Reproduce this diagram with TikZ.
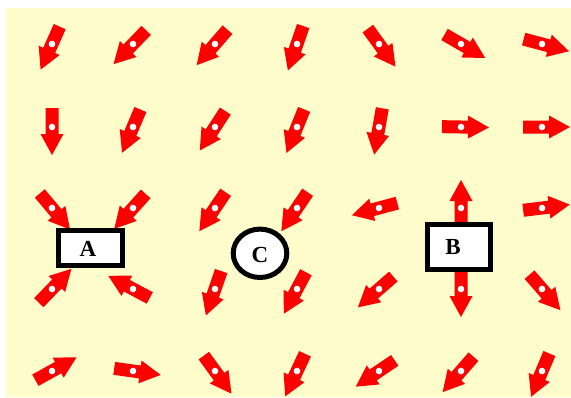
\documentclass[tikz,border=0pt]{standalone}
\usepackage{fontspec}
\setmainfont{Liberation Serif}
\usetikzlibrary{shapes.geometric}
\definecolor{bgyel}{RGB}{255,252,204}
\definecolor{arrred}{RGB}{255,0,0}
\tikzset{
  farrow/.pic={
    \fill[arrred] (-19,-6.5) -- (7,-6.5) -- (7,-11.5) -- (28,0) -- (7,11.5) -- (7,6.5) -- (-19,6.5) -- cycle;
    \fill[white] (0,0) circle (3.3);
  },
  boxnode/.style={draw=black, fill=white, line width=5pt, rectangle, inner sep=0pt},
  ringnode/.style={draw=black, fill=white, line width=5pt, ellipse, inner sep=0pt},
  lettr/.style={font=\fontsize{23}{25}\selectfont\bfseries, inner sep=0pt}
}
\begin{document}
\begin{tikzpicture}[x=1pt,y=1pt]
\useasboundingbox (0,0) rectangle (571,-397);
\fill[bgyel] (6,-8) rectangle (571,-397);
% grid columns and rows
\def\cx{{52,133,215,297,379,461,542}}
\def\ry{{44,127,208,289,371}}
\foreach \r/\angs in {0/{-114,-134,-131,-109,-54,-30,-15},
                      1/{-90,-113,-123,-112,-100,-1,0},
                      2/{-50,-132,-124,-124,-165,90,7},
                      3/{46,152,-109,-118,-139,-90,-49},
                      4/{29,-8,-54,-115,-146,-131,-113}}{
  \foreach \a [count=\c from 0] in \angs {
    \pgfmathsetmacro{\px}{\cx[\c]}
    \pgfmathsetmacro{\py}{\ry[\r]}
    \path (\px,-\py) pic[rotate=\a] {farrow};
  }
}
\node[boxnode, minimum width=64pt, minimum height=35pt] (A) at (90.5,-248) {};
\node[lettr] (Alab) at (88,-249) {A};
\node[boxnode, minimum width=63pt, minimum height=45pt] (B) at (459,-247) {};
\node[lettr] (Blab) at (453,-247) {B};
\node[ringnode, minimum width=53.6pt, minimum height=48.4pt] (C) at (260,-253.3) {};
\node[lettr] (Clab) at (260,-255) {C};
\end{tikzpicture}
\end{document}
